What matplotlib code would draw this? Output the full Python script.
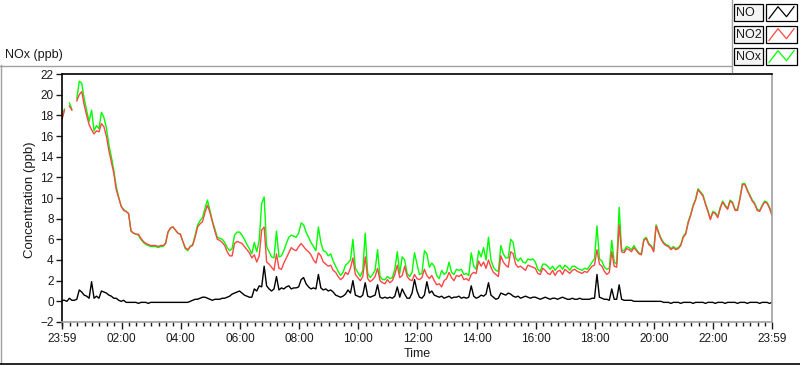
# NOx 浓度日变化曲线 (NO / NO2 / NOx)
import numpy as np
import matplotlib.pyplot as plt
import matplotlib.transforms as mtransforms
from matplotlib.patches import Rectangle
from matplotlib.lines import Line2D

nan = np.nan

# 5 分钟一个点, 从 23:59 到次日 23:59
time_min = np.arange(289) * 5

no2 = [
    17.6, 18.5, nan, 18.9, 18.5, nan, 19.4, 20.0, 20.3, 19.0,
    18.0, 17.1, 16.6, 16.2, 16.5, 16.4, 17.2, 16.9, 16.0, 14.6,
    13.5, 12.4, 10.8, 10.0, 9.2, 8.8, 8.7, 8.5, 6.8, 6.6,
    6.5, 6.5, 6.1, 5.8, 5.6, 5.5, 5.4, 5.4, 5.4, 5.3,
    5.4, 5.4, 5.6, 6.7, 7.1, 7.2, 6.9, 6.6, 6.5, 5.8,
    5.2, 5.0, 5.3, 5.4, 6.2, 7.2, 7.5, 7.7, 8.6, 9.3,
    8.6, 7.7, 6.8, 6.0, 5.9, 5.7, 5.4, 4.8, 4.4, 4.4,
    5.6, 5.8, 5.7,
    5.6, 5.3, 5.0, 4.7, 4.2, 4.5, 3.8, 4.4, 6.9, 7.2,
    3.8, 3.6, 3.3, 3.0, 4.6, 3.2, 3.1, 3.7, 4.2, 4.7,
    5.2, 5.0, 4.9, 5.3, 5.6, 5.3, 5.0, 4.8, 4.5, 4.0,
    3.7, 4.7, 4.4, 3.8, 3.6, 3.4, 3.5, 3.0, 2.8, 2.4,
    2.1, 2.3, 2.8, 2.6, 3.2, 4.2, 2.6, 2.3, 2.0, 2.4,
    4.3, 2.2, 1.9, 2.1, 2.4, 3.2, 2.0, 1.8, 1.7, 2.1,
    1.8, 2.0, 2.6, 3.5, 2.3, 2.5, 3.4, 2.4, 2.1, 2.0,
    2.6,
    2.2, 2.1, 2.3, 3.1, 2.5, 2.2, 2.5, 2.0, 1.6, 1.7,
    1.4, 2.0, 2.2, 2.8, 2.3, 2.0, 2.5, 2.4, 2.6, 2.1,
    2.2, 2.0, 2.6, 2.8, 2.7, 3.9, 3.4, 3.8, 3.2, 4.0,
    3.3, 2.8, 2.6, 2.4, 4.4, 3.8, 3.5, 3.3, 4.8, 4.6,
    3.6, 3.3, 3.4, 3.2, 3.0, 3.5, 3.4, 3.3, 3.2, 2.7,
    2.6, 3.2, 3.0, 2.7, 2.6, 3.0, 2.5, 2.9, 3.0, 2.6,
    3.1, 2.9, 2.7, 3.0, 3.1, 2.9, 2.8, 2.7, 2.9, 2.8,
    3.1,
    3.4, 3.5, 5.0, 3.6, 3.4, 2.9, 2.6, 2.8, 4.8, 3.4,
    3.3, 7.4, 4.8, 4.7, 5.1, 5.0, 4.8, 5.2, 4.9, 4.6,
    4.5, 5.9, 6.1, 5.5, 5.3, 4.8, 7.3, 6.6, 6.0, 5.6,
    5.4, 5.3, 5.0, 5.2, 5.0, 5.1, 5.4, 6.2, 6.5, 7.6,
    8.3, 9.2, 9.8, 10.8, 10.5, 10.2, 9.4, 8.7, 7.9, 8.6,
    8.5, 8.1, 9.0, 9.6, 9.2, 8.9, 9.7, 9.5, 8.8, 8.8,
    9.9, 11.3, 11.3, 10.7, 10.2, 9.7, 9.4, 8.8, 8.7, 9.2,
    9.6, 9.5, 9.0, 8.3,
]

no = [
    0.1, 0.1, 0.0, 0.3, 0.1, 0.1, 0.2, 1.1, 0.9, 0.6,
    0.5, 0.3, 1.9, 0.3, 0.5, 0.3, 1.0, 0.9, 0.8, 0.6,
    0.5, 0.3, 0.3, 0.1, 0.0, 0.1, -0.1, -0.1, -0.1, -0.1,
    -0.1, -0.2, -0.1, -0.1, -0.1, -0.2, -0.1, -0.1, -0.1, -0.1,
    -0.1, -0.1, -0.1, -0.1, -0.1, -0.1, -0.1, -0.1, -0.1, -0.1,
    -0.1, -0.1, 0.0, 0.1, 0.2, 0.2, 0.3, 0.4, 0.4, 0.3,
    0.2, 0.1, 0.2, 0.2, 0.2, 0.3, 0.3, 0.4, 0.5, 0.7,
    0.8, 0.9, 1.0,
    0.8, 0.6, 0.5, 0.4, 0.4, 1.2, 1.0, 1.5, 1.4, 3.4,
    1.5, 1.2, 1.0, 1.2, 2.4, 1.1, 1.3, 1.2, 1.4, 1.5,
    1.2, 1.3, 1.3, 1.4, 2.1, 2.3, 1.7, 1.4, 1.2, 1.3,
    1.2, 2.6, 1.3, 1.1, 1.2, 1.0, 1.1, 0.9, 0.6, 0.5,
    0.4, 0.5, 0.7, 1.1, 0.8, 2.0, 0.6, 0.5, 0.4, 0.6,
    1.8, 0.5, 0.4, 0.5, 0.6, 1.6, 0.4, 0.3, 0.4, 0.3,
    0.4, 0.3, 0.5, 1.4, 0.4, 1.2, 0.7, 0.3, 0.3, 0.8,
    2.1,
    1.0, 0.4, 0.3, 0.6, 1.9, 0.8, 1.0, 0.6, 0.5, 0.4,
    0.5, 0.3, 0.4, 0.5, 0.3, 0.4, 0.4, 0.5, 0.3, 0.4,
    0.3, 0.4, 1.5, 0.5, 0.3, 0.4, 0.6, 0.5, 0.7, 1.8,
    0.6, 0.4, 0.2, 0.3, 0.8, 0.7, 0.6, 0.8, 0.7, 0.5,
    0.4, 0.5, 0.3, 0.4, 0.5, 0.4, 0.3, 0.4, 0.4, 0.3,
    0.2, 0.3, 0.4, 0.3, 0.2, 0.3, 0.3, 0.2, 0.3, 0.4,
    0.3, 0.2, 0.2, 0.3, 0.2, 0.2, 0.3, 0.2, 0.2, 0.2,
    0.2,
    0.3, 0.3, 2.6, 0.4, 0.3, 0.2, 0.2, 0.1, 1.2, 0.2,
    0.2, 1.6, 0.2, 0.1, 0.1, 0.1, 0.1, 0.0, 0.0, 0.0,
    0.0, 0.0, 0.0, 0.0, 0.0, 0.0, 0.0, 0.0, 0.0, -0.1,
    -0.1, -0.1, -0.2, -0.1, -0.1, -0.1, -0.2, -0.1, -0.1, -0.1,
    -0.1, -0.2, -0.1, -0.1, -0.1, -0.1, -0.2, -0.1, -0.1, -0.1,
    -0.2, -0.1, -0.1, -0.1, -0.2, -0.1, -0.1, -0.1, -0.1, -0.2,
    -0.1, -0.1, -0.1, -0.2, -0.1, -0.1, -0.1, -0.1, -0.2, -0.1,
    -0.1, -0.1, -0.2, -0.1,
]

nox = [
    17.7, 18.6, nan, 19.2, 18.6, nan, 19.6, 21.3, 21.1, 19.6,
    18.5, 17.4, 18.5, 16.5, 17.0, 16.7, 18.3, 17.8, 16.8, 15.2,
    14.0, 12.7, 11.1, 10.1, 9.2, 8.9, 8.7, 8.5, 6.8, 6.6,
    6.5, 6.4, 6.0, 5.7, 5.5, 5.4, 5.3, 5.3, 5.3, 5.2,
    5.3, 5.3, 5.6, 6.7, 7.1, 7.2, 6.9, 6.6, 6.5, 5.8,
    5.1, 4.9, 5.3, 5.5, 6.4, 7.4, 7.8, 8.1, 9.0, 9.8,
    8.8, 7.8, 7.0, 6.2, 6.1, 6.0, 5.7, 5.2, 4.9, 5.1,
    6.4, 6.7, 6.7,
    6.4, 6.0, 5.5, 5.1, 4.6, 5.7, 4.8, 5.9, 9.5, 10.1,
    5.3, 4.8, 4.3, 4.2, 6.8, 4.3, 4.4, 4.9, 5.6, 6.2,
    6.4, 6.3, 6.2, 6.6, 7.6, 7.4, 6.7, 6.2, 5.7, 5.3,
    4.9, 7.2, 5.7, 4.9, 4.8, 4.4, 4.6, 3.9, 3.4, 2.9,
    2.5, 2.8, 3.5, 3.7, 4.0, 6.0, 3.2, 2.8, 2.4, 3.0,
    6.6, 2.7, 2.3, 2.6, 3.0, 5.0, 2.4, 2.1, 2.1, 2.4,
    2.2, 2.3, 3.1, 4.8, 2.7, 4.3, 4.0, 2.7, 2.4, 2.8,
    4.7,
    3.6, 2.6, 2.7, 4.9, 4.6, 3.3, 3.7, 3.4, 2.5, 2.2,
    3.0, 2.6, 2.8, 3.8, 2.8, 2.6, 3.1, 3.0, 3.1, 2.6,
    2.7, 2.5, 4.7, 3.4, 3.1, 4.9, 4.3, 5.2, 4.0, 6.2,
    4.0, 3.3, 3.0, 2.9, 5.4, 4.6, 4.2, 4.2, 6.0, 5.7,
    4.2, 3.9, 4.2, 3.8, 3.7, 4.1, 4.0, 4.1, 3.8, 3.1,
    2.9, 3.6, 3.6, 3.4, 3.1, 3.4, 3.0, 3.3, 3.5, 3.1,
    3.5, 3.3, 3.0, 3.4, 3.4, 3.2, 3.1, 3.0, 3.2, 3.1,
    3.4,
    3.8, 4.1, 7.3, 4.1, 3.9, 3.3, 3.1, 3.2, 5.9, 3.8,
    3.6, 9.1, 5.0, 4.9, 5.3, 5.2, 5.0, 5.4, 5.0, 4.7,
    4.6, 6.0, 6.2, 5.6, 5.4, 4.9, 7.4, 6.7, 6.1, 5.7,
    5.5, 5.4, 5.1, 5.3, 5.1, 5.2, 5.5, 6.3, 6.6, 7.7,
    8.4, 9.3, 9.9, 10.9, 10.6, 10.3, 9.5, 8.8, 8.0, 8.7,
    8.6, 8.2, 9.1, 9.7, 9.3, 9.0, 9.8, 9.6, 8.9, 8.9,
    10.0, 11.4, 11.4, 10.8, 10.3, 9.8, 9.5, 8.9, 8.8, 9.3,
    9.7, 9.6, 9.1, 8.4,
]

tick_pos = [0, 121, 241, 361, 481, 601, 721, 841, 961, 1081, 1201, 1321, 1440]
tick_labels = ['23:59', '02:00', '04:00', '06:00', '08:00', '10:00', '12:00',
               '14:00', '16:00', '18:00', '20:00', '22:00', '23:59']
y_ticks = list(range(-2, 23, 2))

plt.rcParams['font.family'] = ['Liberation Sans', 'DejaVu Sans']
txt_color = '#1a1a1a'

fig = plt.figure(figsize=(8, 3.65), dpi=100)
fig.patch.set_facecolor('white')
# 像素坐标 (左上角为原点)
px = mtransforms.Affine2D().scale(1 / 800, -1 / 365).translate(0, 1) + fig.transFigure

ax = fig.add_axes([62 / 800, 1 - 322 / 365, 710 / 800, 248 / 365])
ax.plot(time_min, nox, color='#00ff00', lw=1.0, label='NOx')
ax.plot(time_min, no2, color='#ff4646', lw=1.0, label='NO2')
ax.plot(time_min, no, color='black', lw=1.0, label='NO')

ax.set_xlim(0, 1440)
ax.set_ylim(-2, 22)
ax.set_xticks(tick_pos)
ax.set_xticklabels(tick_labels)
ax.set_xticks([0] + [1 + 15 * j for j in range(96)] + [1440], minor=True)
ax.set_yticks(y_ticks)
ax.tick_params(axis='both', which='major', labelsize=8.5, colors=txt_color,
               length=4, width=1, direction='out', pad=2)
ax.tick_params(axis='x', which='minor', length=3, width=1, color=txt_color)
ax.tick_params(axis='x', which='major', length=5, pad=3)

ax.spines['left'].set_color('black')
ax.spines['top'].set_color('black')
ax.spines['right'].set_color('#a0a0a0')
ax.spines['bottom'].set_color('#a0a0a0')
for s in ax.spines.values():
    s.set_linewidth(1.2)

fig.text(5, 55, 'NOx (ppb)', transform=px, fontsize=9, color=txt_color, va='center', ha='left')
fig.text(30, 200, 'Concentration (ppb)', transform=px, fontsize=9.5, color=txt_color,
         rotation=90, va='center', ha='center')
fig.text(417, 354, 'Time', transform=px, fontsize=9, color=txt_color, va='center', ha='center')

# 面板边框
fig.add_artist(Line2D([0, 731], [65.5, 65.5], transform=px, color='#a0a0a0', lw=1))
fig.add_artist(Line2D([731.5, 731.5], [0, 72], transform=px, color='#a0a0a0', lw=1))
fig.add_artist(Line2D([0.5, 0.5], [65, 363], transform=px, color='#a0a0a0', lw=1))
fig.add_artist(Line2D([0, 800], [363.5, 363.5], transform=px, color='black', lw=1.2))

# 图例
legend_names = ['NO', 'NO2', 'NOx']
legend_colors = ['black', '#ff4646', '#00ff00']
for i, (name, c) in enumerate(zip(legend_names, legend_colors)):
    y0 = 4 + 22 * i
    fig.add_artist(Rectangle((734, y0 + 17), 29, -17, transform=px, facecolor='#f4f4f4',
                             edgecolor='black', lw=0.9))
    fig.text(736, y0 + 9, name, transform=px, fontsize=9, color=txt_color, va='center', ha='left')
    fig.add_artist(Rectangle((766, y0 + 17), 31, -17, transform=px, facecolor='white',
                             edgecolor='black', lw=0.9))
    fig.add_artist(Line2D([769, 778, 786.5, 794], [y0 + 14.5, y0 + 2.7, y0 + 12.7, y0 + 2.7],
                          transform=px, color=c, lw=0.9))

plt.savefig('out.png', dpi=100)
